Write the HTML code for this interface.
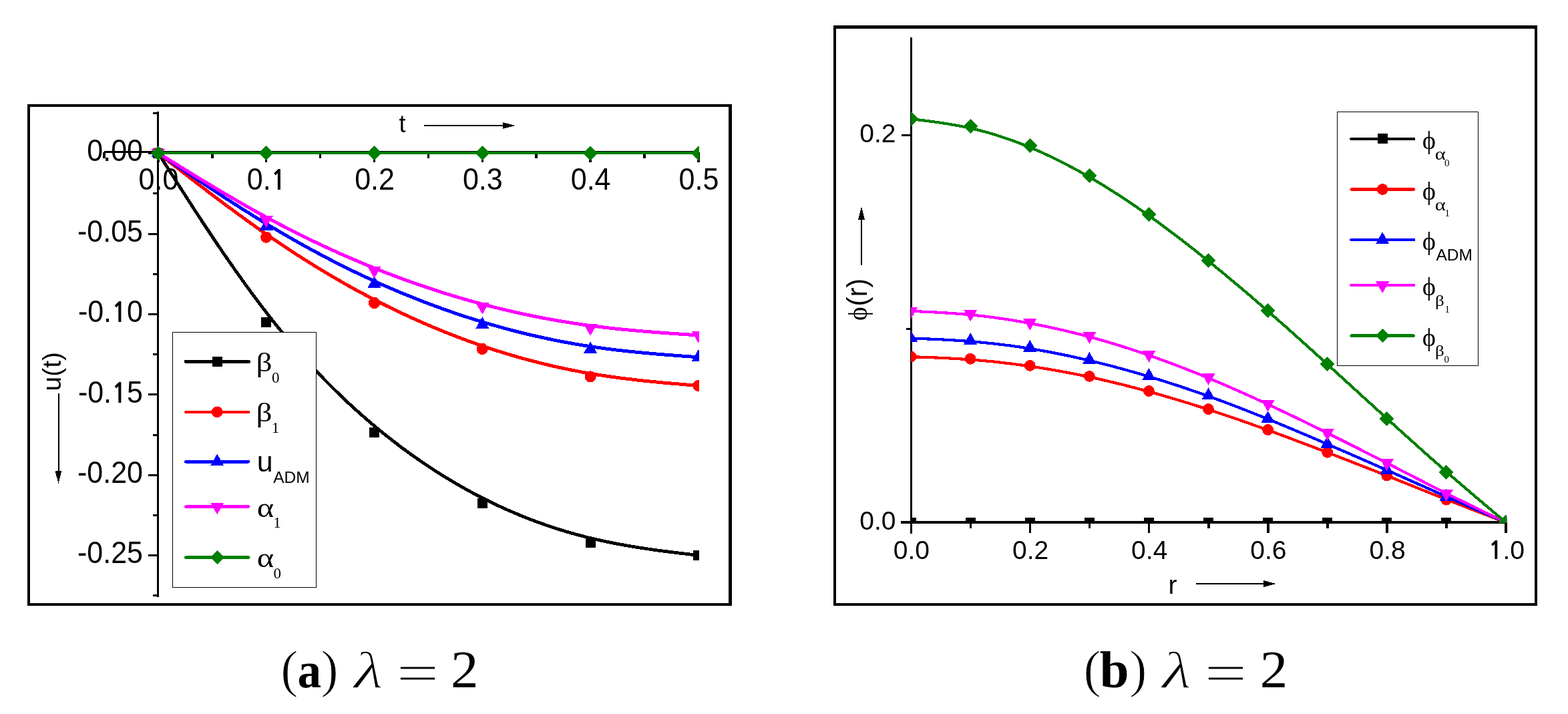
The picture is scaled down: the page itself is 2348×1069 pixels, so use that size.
<!DOCTYPE html>
<html><head><meta charset="utf-8"><title>Figure</title>
<style>html,body{margin:0;padding:0;background:#fff;overflow:hidden}svg{display:block}</style>
</head><body>
<svg shape-rendering="crispEdges" width="2348" height="1069" viewBox="0 0 2348 1069">
<rect width="2348" height="1069" fill="#fff"/>
<rect x="41" y="156" width="1055" height="4"/>
<rect x="41" y="903" width="1055" height="4"/>
<rect x="41" y="156" width="4" height="751"/>
<rect x="1091" y="156" width="5" height="751"/>
<g stroke="#000" stroke-width="3" fill="none">
<line x1="156" y1="227.5" x2="1047.4" y2="227.5"/>
<line x1="236.5" y1="167" x2="236.5" y2="893.5"/>
<line x1="156" y1="228" x2="156" y2="236.5" stroke-width="3.5"/>
<line x1="236.9" y1="228" x2="236.9" y2="242.5" stroke-width="3.5"/>
<line x1="317.8" y1="228" x2="317.8" y2="236.5" stroke-width="3.5"/>
<line x1="398.7" y1="228" x2="398.7" y2="242.5" stroke-width="3.5"/>
<line x1="479.6" y1="228" x2="479.6" y2="236.5" stroke-width="3.5"/>
<line x1="560.5" y1="228" x2="560.5" y2="242.5" stroke-width="3.5"/>
<line x1="641.4" y1="228" x2="641.4" y2="236.5" stroke-width="3.5"/>
<line x1="722.3" y1="228" x2="722.3" y2="242.5" stroke-width="3.5"/>
<line x1="803.2" y1="228" x2="803.2" y2="236.5" stroke-width="3.5"/>
<line x1="884.1" y1="228" x2="884.1" y2="242.5" stroke-width="3.5"/>
<line x1="965" y1="228" x2="965" y2="236.5" stroke-width="3.5"/>
<line x1="1045.9" y1="228" x2="1045.9" y2="242.5" stroke-width="3.5"/>
<line x1="228.5" y1="891.8" x2="236.5" y2="891.8"/>
<line x1="222" y1="831.6" x2="236.5" y2="831.6"/>
<line x1="228.5" y1="771.4" x2="236.5" y2="771.4"/>
<line x1="222" y1="711.2" x2="236.5" y2="711.2"/>
<line x1="228.5" y1="651" x2="236.5" y2="651"/>
<line x1="222" y1="590.8" x2="236.5" y2="590.8"/>
<line x1="228.5" y1="530.6" x2="236.5" y2="530.6"/>
<line x1="222" y1="470.4" x2="236.5" y2="470.4"/>
<line x1="228.5" y1="410.2" x2="236.5" y2="410.2"/>
<line x1="222" y1="350" x2="236.5" y2="350"/>
<line x1="228.5" y1="289.8" x2="236.5" y2="289.8"/>
<line x1="222" y1="229.6" x2="236.5" y2="229.6"/>
<line x1="228.5" y1="169.4" x2="236.5" y2="169.4"/>
</g>
<g font-family="Liberation Sans, Arial, sans-serif" font-size="43" fill="#000">
<text transform="translate(237.4,283.8) scale(1,1.065)" text-anchor="middle">0.0</text>
<text transform="translate(399.2,283.8) scale(1,1.065)" text-anchor="middle">0.<tspan font-family="NanumGothic, Liberation Sans, sans-serif" font-weight="bold" font-size="38">1</tspan></text>
<text transform="translate(561,283.8) scale(1,1.065)" text-anchor="middle">0.2</text>
<text transform="translate(722.8,283.8) scale(1,1.065)" text-anchor="middle">0.3</text>
<text transform="translate(884.6,283.8) scale(1,1.065)" text-anchor="middle">0.4</text>
<text transform="translate(1046.4,283.8) scale(1,1.065)" text-anchor="middle">0.5</text>
<text transform="translate(214,241.4) scale(1,1.065)" text-anchor="end">0.00</text>
<text transform="translate(214,361.8) scale(1,1.065)" text-anchor="end">-0.05</text>
<text transform="translate(214,482.2) scale(1,1.065)" text-anchor="end">-0.<tspan font-family="NanumGothic, Liberation Sans, sans-serif" font-weight="bold" font-size="38">1</tspan>0</text>
<text transform="translate(214,602.6) scale(1,1.065)" text-anchor="end">-0.<tspan font-family="NanumGothic, Liberation Sans, sans-serif" font-weight="bold" font-size="38">1</tspan>5</text>
<text transform="translate(214,723) scale(1,1.065)" text-anchor="end">-0.20</text>
<text transform="translate(214,843.4) scale(1,1.065)" text-anchor="end">-0.25</text>
</g>
<text x="597.5" y="197.9" font-family="Liberation Sans, Arial, sans-serif" font-size="36">t</text>
<line x1="635.3" y1="188" x2="756" y2="188" stroke="#000" stroke-width="2"/>
<polygon points="753,183.2 771.8,188 753,192.8" fill="#000"/>
<text transform="translate(90.9,556.3) rotate(-90)" text-anchor="middle" font-family="Liberation Sans, Arial, sans-serif" font-size="39">u(t)</text>
<line x1="87.5" y1="589" x2="87.5" y2="708" stroke="#000" stroke-width="2"/>
<polygon points="82.6,705 92.4,705 87.5,724.3" fill="#000"/>
<defs><clipPath id="cl"><rect x="150" y="160" width="897" height="740"/></clipPath>
<clipPath id="cr"><rect x="1364.1" y="45" width="892.1" height="738"/></clipPath></defs>
<g clip-path="url(#cl)">
<path d="M236.9 229.2 L237.0 229.3 L237.0 229.4 L237.1 229.6 L237.3 229.9 L237.6 230.2 L237.9 230.8 L238.3 231.4 L238.9 232.3 L239.5 233.3 L240.3 234.5 L241.2 235.9 L242.3 237.6 L243.5 239.5 L244.9 241.7 L246.5 244.2 L248.3 247.0 L250.3 250.1 L252.5 253.6 L255.0 257.5 L257.7 261.7 L260.6 266.3 L263.9 271.4 L267.4 276.9 L271.2 282.8 L275.2 289.1 L279.5 295.8 L284.0 302.8 L288.7 310.1 L293.7 317.7 L298.8 325.6 L304.2 333.7 L309.7 342.0 L315.3 350.5 L321.2 359.2 L327.1 368.1 L333.2 377.0 L339.4 386.1 L345.8 395.2 L352.2 404.4 L358.7 413.6 L365.2 422.7 L371.9 431.9 L378.5 441.0 L385.2 450.0 L392.0 458.9 L398.7 467.7 L405.4 476.3 L412.2 484.8 L418.9 493.2 L425.7 501.3 L432.4 509.4 L439.2 517.3 L445.9 525.1 L452.6 532.7 L459.4 540.2 L466.1 547.5 L472.9 554.7 L479.6 561.8 L486.3 568.8 L493.1 575.6 L499.8 582.3 L506.6 588.9 L513.3 595.4 L520.0 601.8 L526.8 608.0 L533.5 614.1 L540.3 620.2 L547.0 626.1 L553.8 631.9 L560.5 637.6 L567.2 643.2 L574.0 648.7 L580.7 654.0 L587.5 659.3 L594.2 664.5 L600.9 669.6 L607.7 674.6 L614.4 679.5 L621.2 684.3 L627.9 689.0 L634.7 693.7 L641.4 698.2 L648.1 702.6 L654.9 707.0 L661.6 711.2 L668.4 715.4 L675.1 719.4 L681.8 723.4 L688.6 727.3 L695.3 731.1 L702.1 734.9 L708.8 738.5 L715.6 742.1 L722.3 745.5 L729.0 748.9 L735.8 752.2 L742.5 755.5 L749.3 758.6 L756.0 761.7 L762.8 764.7 L769.5 767.6 L776.2 770.4 L783.0 773.2 L789.7 775.9 L796.5 778.5 L803.2 781.0 L809.9 783.4 L816.7 785.8 L823.4 788.1 L830.2 790.4 L836.9 792.5 L843.7 794.6 L850.4 796.6 L857.1 798.6 L863.9 800.4 L870.6 802.2 L877.4 804.0 L884.1 805.6 L890.8 807.2 L897.6 808.7 L904.3 810.2 L910.9 811.6 L917.6 812.9 L924.1 814.2 L930.6 815.4 L937.0 816.6 L943.4 817.7 L949.6 818.7 L955.7 819.7 L961.6 820.6 L967.5 821.5 L973.1 822.3 L978.6 823.1 L984.0 823.9 L989.1 824.6 L994.1 825.2 L998.8 825.8 L1003.3 826.4 L1007.6 826.9 L1011.6 827.4 L1015.4 827.9 L1018.9 828.3 L1022.2 828.7 L1025.1 829.0 L1027.8 829.3 L1030.3 829.6 L1032.5 829.9 L1034.5 830.1 L1036.3 830.4 L1037.9 830.5 L1039.3 830.7 L1040.5 830.9 L1041.6 831.0 L1042.5 831.1 L1043.3 831.2 L1043.9 831.3 L1044.5 831.3 L1044.9 831.4 L1045.2 831.4 L1045.5 831.4 L1045.7 831.5 L1045.8 831.5 L1045.8 831.5 L1045.9 831.5" fill="none" stroke="#000000" stroke-width="4.8" stroke-linejoin="round"/>
<rect x="229.4" y="221.7" width="15" height="15" fill="#000000"/>
<rect x="391.2" y="474.9" width="15" height="15" fill="#000000"/>
<rect x="553" y="639.9" width="15" height="15" fill="#000000"/>
<rect x="714.8" y="745.9" width="15" height="15" fill="#000000"/>
<rect x="876.6" y="804.7" width="15" height="15" fill="#000000"/>
<rect x="1038.4" y="824" width="15" height="15" fill="#000000"/>
<path d="M236.9 229.2 L237.0 229.2 L237.0 229.3 L237.1 229.4 L237.3 229.5 L237.6 229.7 L237.9 230.0 L238.3 230.3 L238.9 230.7 L239.5 231.2 L240.3 231.8 L241.2 232.5 L242.3 233.4 L243.5 234.3 L244.9 235.4 L246.5 236.7 L248.3 238.1 L250.3 239.6 L252.5 241.4 L255.0 243.3 L257.7 245.4 L260.6 247.7 L263.9 250.2 L267.4 252.9 L271.2 255.9 L275.2 259.0 L279.5 262.3 L284.0 265.8 L288.7 269.5 L293.7 273.3 L298.8 277.3 L304.2 281.3 L309.7 285.5 L315.3 289.8 L321.2 294.2 L327.1 298.7 L333.2 303.3 L339.4 307.9 L345.8 312.6 L352.2 317.3 L358.7 322.1 L365.2 326.8 L371.9 331.6 L378.5 336.4 L385.2 341.2 L392.0 345.9 L398.7 350.6 L405.4 355.2 L412.2 359.8 L418.9 364.4 L425.7 368.9 L432.4 373.3 L439.2 377.8 L445.9 382.1 L452.6 386.4 L459.4 390.7 L466.1 394.9 L472.9 399.1 L479.6 403.2 L486.3 407.2 L493.1 411.2 L499.8 415.2 L506.6 419.1 L513.3 423.0 L520.0 426.8 L526.8 430.6 L533.5 434.3 L540.3 437.9 L547.0 441.5 L553.8 445.1 L560.5 448.6 L567.2 452.1 L574.0 455.5 L580.7 458.8 L587.5 462.2 L594.2 465.4 L600.9 468.6 L607.7 471.8 L614.4 474.9 L621.2 477.9 L627.9 480.9 L634.7 483.9 L641.4 486.8 L648.1 489.7 L654.9 492.5 L661.6 495.2 L668.4 498.0 L675.1 500.6 L681.8 503.2 L688.6 505.8 L695.3 508.3 L702.1 510.8 L708.8 513.2 L715.6 515.6 L722.3 517.9 L729.0 520.2 L735.8 522.4 L742.5 524.6 L749.3 526.7 L756.0 528.8 L762.8 530.8 L769.5 532.8 L776.2 534.8 L783.0 536.7 L789.7 538.5 L796.5 540.3 L803.2 542.0 L809.9 543.7 L816.7 545.4 L823.4 547.0 L830.2 548.6 L836.9 550.1 L843.7 551.5 L850.4 552.9 L857.1 554.3 L863.9 555.6 L870.6 556.9 L877.4 558.1 L884.1 559.3 L890.8 560.4 L897.6 561.5 L904.3 562.5 L910.9 563.5 L917.6 564.4 L924.1 565.3 L930.6 566.2 L937.0 567.0 L943.4 567.7 L949.6 568.5 L955.7 569.2 L961.6 569.8 L967.5 570.5 L973.1 571.0 L978.6 571.6 L984.0 572.1 L989.1 572.6 L994.1 573.1 L998.8 573.5 L1003.3 573.9 L1007.6 574.3 L1011.6 574.6 L1015.4 574.9 L1018.9 575.2 L1022.2 575.5 L1025.1 575.8 L1027.8 576.0 L1030.3 576.2 L1032.5 576.4 L1034.5 576.5 L1036.3 576.7 L1037.9 576.8 L1039.3 576.9 L1040.5 577.1 L1041.6 577.1 L1042.5 577.2 L1043.3 577.3 L1043.9 577.3 L1044.5 577.4 L1044.9 577.4 L1045.2 577.4 L1045.5 577.5 L1045.7 577.5 L1045.8 577.5 L1045.8 577.5 L1045.9 577.5" fill="none" stroke="#ff0000" stroke-width="5.0" stroke-linejoin="round"/>
<circle cx="236.9" cy="229.2" r="8.6" fill="#ff0000"/>
<circle cx="398.7" cy="355.2" r="8.6" fill="#ff0000"/>
<circle cx="560.5" cy="453.5" r="8.6" fill="#ff0000"/>
<circle cx="722.3" cy="522.5" r="8.6" fill="#ff0000"/>
<circle cx="884.1" cy="563.9" r="8.6" fill="#ff0000"/>
<circle cx="1045.9" cy="577.5" r="8.6" fill="#ff0000"/>
<path d="M236.9 229.2 L237.0 229.2 L237.0 229.3 L237.1 229.4 L237.3 229.5 L237.6 229.7 L237.9 229.9 L238.3 230.2 L238.9 230.5 L239.5 231.0 L240.3 231.5 L241.2 232.1 L242.3 232.8 L243.5 233.7 L244.9 234.6 L246.5 235.7 L248.3 236.9 L250.3 238.3 L252.5 239.8 L255.0 241.4 L257.7 243.3 L260.6 245.3 L263.9 247.5 L267.4 249.9 L271.2 252.4 L275.2 255.2 L279.5 258.0 L284.0 261.1 L288.7 264.3 L293.7 267.6 L298.8 271.0 L304.2 274.6 L309.7 278.3 L315.3 282.0 L321.2 285.8 L327.1 289.8 L333.2 293.7 L339.4 297.8 L345.8 301.8 L352.2 306.0 L358.7 310.1 L365.2 314.3 L371.9 318.4 L378.5 322.6 L385.2 326.7 L392.0 330.9 L398.7 335.0 L405.4 339.0 L412.2 343.0 L418.9 347.0 L425.7 351.0 L432.4 354.8 L439.2 358.7 L445.9 362.5 L452.6 366.3 L459.4 370.0 L466.1 373.7 L472.9 377.3 L479.6 380.9 L486.3 384.5 L493.1 388.0 L499.8 391.5 L506.6 394.9 L513.3 398.3 L520.0 401.6 L526.8 405.0 L533.5 408.2 L540.3 411.4 L547.0 414.6 L553.8 417.7 L560.5 420.8 L567.2 423.9 L574.0 426.9 L580.7 429.8 L587.5 432.7 L594.2 435.6 L600.9 438.4 L607.7 441.2 L614.4 443.9 L621.2 446.6 L627.9 449.3 L634.7 451.9 L641.4 454.5 L648.1 457.0 L654.9 459.5 L661.6 461.9 L668.4 464.3 L675.1 466.7 L681.8 469.0 L688.6 471.3 L695.3 473.5 L702.1 475.7 L708.8 477.8 L715.6 479.9 L722.3 482.0 L729.0 484.0 L735.8 486.0 L742.5 487.9 L749.3 489.8 L756.0 491.7 L762.8 493.5 L769.5 495.2 L776.2 497.0 L783.0 498.6 L789.7 500.3 L796.5 501.9 L803.2 503.4 L809.9 504.9 L816.7 506.4 L823.4 507.8 L830.2 509.2 L836.9 510.6 L843.7 511.9 L850.4 513.1 L857.1 514.3 L863.9 515.5 L870.6 516.6 L877.4 517.7 L884.1 518.7 L890.8 519.7 L897.6 520.7 L904.3 521.6 L910.9 522.5 L917.6 523.3 L924.1 524.1 L930.6 524.8 L937.0 525.6 L943.4 526.2 L949.6 526.9 L955.7 527.5 L961.6 528.1 L967.5 528.6 L973.1 529.1 L978.6 529.6 L984.0 530.1 L989.1 530.5 L994.1 530.9 L998.8 531.3 L1003.3 531.6 L1007.6 532.0 L1011.6 532.3 L1015.4 532.6 L1018.9 532.8 L1022.2 533.1 L1025.1 533.3 L1027.8 533.5 L1030.3 533.7 L1032.5 533.8 L1034.5 534.0 L1036.3 534.1 L1037.9 534.2 L1039.3 534.3 L1040.5 534.4 L1041.6 534.5 L1042.5 534.6 L1043.3 534.6 L1043.9 534.7 L1044.5 534.7 L1044.9 534.7 L1045.2 534.8 L1045.5 534.8 L1045.7 534.8 L1045.8 534.8 L1045.8 534.8 L1045.9 534.8" fill="none" stroke="#0000ff" stroke-width="5.0" stroke-linejoin="round"/>
<polygon points="236.9,217.33 247,235.13 226.8,235.13" fill="#0000ff"/>
<polygon points="398.7,327.03 408.8,344.83 388.6,344.83" fill="#0000ff"/>
<polygon points="560.5,413.13 570.6,430.93 550.4,430.93" fill="#0000ff"/>
<polygon points="722.3,474.13 732.4,491.93 712.2,491.93" fill="#0000ff"/>
<polygon points="884.1,511.03 894.2,528.83 874,528.83" fill="#0000ff"/>
<polygon points="1045.9,522.93 1056,540.73 1035.8,540.73" fill="#0000ff"/>
<path d="M236.9 229.2 L237.0 229.2 L237.0 229.3 L237.1 229.4 L237.3 229.5 L237.6 229.6 L237.9 229.8 L238.3 230.1 L238.9 230.4 L239.5 230.8 L240.3 231.3 L241.2 231.8 L242.3 232.5 L243.5 233.3 L244.9 234.1 L246.5 235.1 L248.3 236.2 L250.3 237.5 L252.5 238.8 L255.0 240.4 L257.7 242.0 L260.6 243.9 L263.9 245.8 L267.4 248.0 L271.2 250.3 L275.2 252.8 L279.5 255.5 L284.0 258.2 L288.7 261.1 L293.7 264.2 L298.8 267.3 L304.2 270.5 L309.7 273.8 L315.3 277.2 L321.2 280.7 L327.1 284.3 L333.2 287.9 L339.4 291.5 L345.8 295.2 L352.2 299.0 L358.7 302.7 L365.2 306.5 L371.9 310.2 L378.5 314.0 L385.2 317.7 L392.0 321.4 L398.7 325.1 L405.4 328.7 L412.2 332.3 L418.9 335.9 L425.7 339.4 L432.4 342.9 L439.2 346.3 L445.9 349.7 L452.6 353.1 L459.4 356.4 L466.1 359.7 L472.9 362.9 L479.6 366.1 L486.3 369.2 L493.1 372.4 L499.8 375.4 L506.6 378.5 L513.3 381.5 L520.0 384.4 L526.8 387.3 L533.5 390.2 L540.3 393.1 L547.0 395.9 L553.8 398.6 L560.5 401.4 L567.2 404.0 L574.0 406.7 L580.7 409.3 L587.5 411.9 L594.2 414.4 L600.9 416.9 L607.7 419.4 L614.4 421.8 L621.2 424.2 L627.9 426.5 L634.7 428.8 L641.4 431.1 L648.1 433.3 L654.9 435.5 L661.6 437.7 L668.4 439.8 L675.1 441.9 L681.8 443.9 L688.6 445.9 L695.3 447.9 L702.1 449.8 L708.8 451.7 L715.6 453.5 L722.3 455.4 L729.0 457.1 L735.8 458.9 L742.5 460.6 L749.3 462.2 L756.0 463.8 L762.8 465.4 L769.5 467.0 L776.2 468.5 L783.0 470.0 L789.7 471.4 L796.5 472.8 L803.2 474.2 L809.9 475.5 L816.7 476.8 L823.4 478.0 L830.2 479.2 L836.9 480.4 L843.7 481.5 L850.4 482.6 L857.1 483.7 L863.9 484.7 L870.6 485.7 L877.4 486.7 L884.1 487.6 L890.8 488.4 L897.6 489.3 L904.3 490.1 L910.9 490.9 L917.6 491.6 L924.1 492.3 L930.6 493.0 L937.0 493.6 L943.4 494.2 L949.6 494.8 L955.7 495.4 L961.6 495.9 L967.5 496.4 L973.1 496.8 L978.6 497.3 L984.0 497.7 L989.1 498.1 L994.1 498.5 L998.8 498.8 L1003.3 499.1 L1007.6 499.4 L1011.6 499.7 L1015.4 499.9 L1018.9 500.2 L1022.2 500.4 L1025.1 500.6 L1027.8 500.8 L1030.3 500.9 L1032.5 501.1 L1034.5 501.2 L1036.3 501.4 L1037.9 501.5 L1039.3 501.6 L1040.5 501.6 L1041.6 501.7 L1042.5 501.8 L1043.3 501.8 L1043.9 501.9 L1044.5 501.9 L1044.9 501.9 L1045.2 502.0 L1045.5 502.0 L1045.7 502.0 L1045.8 502.0 L1045.8 502.0 L1045.9 502.0" fill="none" stroke="#ff00ff" stroke-width="5.0" stroke-linejoin="round"/>
<polygon points="226.8,223.27 247,223.27 236.9,241.07" fill="#ff00ff"/>
<polygon points="388.6,323.17 408.8,323.17 398.7,340.97" fill="#ff00ff"/>
<polygon points="550.4,399.07 570.6,399.07 560.5,416.87" fill="#ff00ff"/>
<polygon points="712.2,453.07 732.4,453.07 722.3,470.87" fill="#ff00ff"/>
<polygon points="874,485.17 894.2,485.17 884.1,502.97" fill="#ff00ff"/>
<polygon points="1035.8,496.07 1056,496.07 1045.9,513.87" fill="#ff00ff"/>
<path d="M236.9 229.2 L237.0 229.2 L237.0 229.2 L237.1 229.2 L237.3 229.2 L237.6 229.2 L237.9 229.2 L238.3 229.2 L238.9 229.2 L239.5 229.2 L240.3 229.2 L241.2 229.2 L242.3 229.2 L243.5 229.2 L244.9 229.2 L246.5 229.2 L248.3 229.2 L250.3 229.2 L252.5 229.2 L255.0 229.2 L257.7 229.2 L260.6 229.2 L263.9 229.2 L267.4 229.2 L271.2 229.2 L275.2 229.2 L279.5 229.2 L284.0 229.2 L288.7 229.2 L293.7 229.2 L298.8 229.2 L304.2 229.2 L309.7 229.2 L315.3 229.2 L321.2 229.2 L327.1 229.2 L333.2 229.2 L339.4 229.2 L345.8 229.2 L352.2 229.2 L358.7 229.2 L365.2 229.2 L371.9 229.2 L378.5 229.2 L385.2 229.2 L392.0 229.2 L398.7 229.2 L405.4 229.2 L412.2 229.2 L418.9 229.2 L425.7 229.2 L432.4 229.2 L439.2 229.2 L445.9 229.2 L452.6 229.2 L459.4 229.2 L466.1 229.2 L472.9 229.2 L479.6 229.2 L486.3 229.2 L493.1 229.2 L499.8 229.2 L506.6 229.2 L513.3 229.2 L520.0 229.2 L526.8 229.2 L533.5 229.2 L540.3 229.2 L547.0 229.2 L553.8 229.2 L560.5 229.2 L567.2 229.2 L574.0 229.2 L580.7 229.2 L587.5 229.2 L594.2 229.2 L600.9 229.2 L607.7 229.2 L614.4 229.2 L621.2 229.2 L627.9 229.2 L634.7 229.2 L641.4 229.2 L648.1 229.2 L654.9 229.2 L661.6 229.2 L668.4 229.2 L675.1 229.2 L681.8 229.2 L688.6 229.2 L695.3 229.2 L702.1 229.2 L708.8 229.2 L715.6 229.2 L722.3 229.2 L729.0 229.2 L735.8 229.2 L742.5 229.2 L749.3 229.2 L756.0 229.2 L762.8 229.2 L769.5 229.2 L776.2 229.2 L783.0 229.2 L789.7 229.2 L796.5 229.2 L803.2 229.2 L809.9 229.2 L816.7 229.2 L823.4 229.2 L830.2 229.2 L836.9 229.2 L843.7 229.2 L850.4 229.2 L857.1 229.2 L863.9 229.2 L870.6 229.2 L877.4 229.2 L884.1 229.2 L890.8 229.2 L897.6 229.2 L904.3 229.2 L910.9 229.2 L917.6 229.2 L924.1 229.2 L930.6 229.2 L937.0 229.2 L943.4 229.2 L949.6 229.2 L955.7 229.2 L961.6 229.2 L967.5 229.2 L973.1 229.2 L978.6 229.2 L984.0 229.2 L989.1 229.2 L994.1 229.2 L998.8 229.2 L1003.3 229.2 L1007.6 229.2 L1011.6 229.2 L1015.4 229.2 L1018.9 229.2 L1022.2 229.2 L1025.1 229.2 L1027.8 229.2 L1030.3 229.2 L1032.5 229.2 L1034.5 229.2 L1036.3 229.2 L1037.9 229.2 L1039.3 229.2 L1040.5 229.2 L1041.6 229.2 L1042.5 229.2 L1043.3 229.2 L1043.9 229.2 L1044.5 229.2 L1044.9 229.2 L1045.2 229.2 L1045.5 229.2 L1045.7 229.2 L1045.8 229.2 L1045.8 229.2 L1045.9 229.2" fill="none" stroke="#008000" stroke-width="4.2" stroke-linejoin="round"/>
<polygon points="236.9,218.2 247.9,229.2 236.9,240.2 225.9,229.2" fill="#008000"/>
<polygon points="398.7,218.2 409.7,229.2 398.7,240.2 387.7,229.2" fill="#008000"/>
<polygon points="560.5,218.2 571.5,229.2 560.5,240.2 549.5,229.2" fill="#008000"/>
<polygon points="722.3,218.2 733.3,229.2 722.3,240.2 711.3,229.2" fill="#008000"/>
<polygon points="884.1,218.2 895.1,229.2 884.1,240.2 873.1,229.2" fill="#008000"/>
<polygon points="1045.9,218.2 1056.9,229.2 1045.9,240.2 1034.9,229.2" fill="#008000"/>
</g>
<rect x="258.5" y="497.5" width="215" height="382" fill="#fff" stroke="#000" stroke-width="1.2"/>
<line x1="278.3" y1="541.4" x2="372.3" y2="541.4" stroke="#000000" stroke-width="5.0" stroke-linecap="round"/>
<rect x="317.7" y="533.9" width="15" height="15" fill="#000000"/>
<line x1="278.3" y1="616.8" x2="372.3" y2="616.8" stroke="#ff0000" stroke-width="4.4" stroke-linecap="round"/>
<circle cx="325.2" cy="616.8" r="8.4" fill="#ff0000"/>
<line x1="278.3" y1="691.3" x2="372.3" y2="691.3" stroke="#0000ff" stroke-width="4.4" stroke-linecap="round"/>
<polygon points="325.2,679.43 335.3,697.23 315.1,697.23" fill="#0000ff"/>
<line x1="278.3" y1="758.6" x2="372.3" y2="758.6" stroke="#ff00ff" stroke-width="4.4" stroke-linecap="round"/>
<polygon points="315.1,752.67 335.3,752.67 325.2,770.47" fill="#ff00ff"/>
<line x1="278.3" y1="834.6" x2="372.3" y2="834.6" stroke="#008000" stroke-width="4.6" stroke-linecap="round"/>
<polygon points="325.2,824.1 335.7,834.6 325.2,845.1 314.7,834.6" fill="#008000"/>
<text transform="translate(383.57,555.5) scale(1.17,1)" font-family="Liberation Serif, Times New Roman, serif" font-size="40.5">β</text>
<text x="406.93" y="573" font-family="Liberation Serif, Times New Roman, serif" font-size="23">0</text>
<text transform="translate(383.57,631) scale(1.17,1)" font-family="Liberation Serif, Times New Roman, serif" font-size="40.5">β</text>
<text x="406.78" y="648.3" font-family="Liberation Serif, Times New Roman, serif" font-size="23">1</text>
<text x="384.81" y="705.6" font-family="Liberation Sans, Arial, sans-serif" font-size="43">u</text>
<text x="409.25" y="723.1" font-family="Liberation Sans, Arial, sans-serif" font-size="24.5">ADM</text>
<text transform="translate(384.75,773.8) scale(1.17,1)" font-family="Liberation Serif, Times New Roman, serif" font-size="41.5">α</text>
<text x="409.28" y="789.9" font-family="Liberation Serif, Times New Roman, serif" font-size="23">1</text>
<text transform="translate(384.75,848.6) scale(1.17,1)" font-family="Liberation Serif, Times New Roman, serif" font-size="41.5">α</text>
<text x="409.43" y="865.8" font-family="Liberation Serif, Times New Roman, serif" font-size="23">0</text>
<rect x="1248" y="38" width="1054" height="5"/>
<rect x="1248" y="903" width="1054" height="4"/>
<rect x="1248" y="38" width="4" height="869"/>
<rect x="2298" y="38" width="4" height="869"/>
<g stroke="#000" stroke-width="3" fill="none">
<line x1="1364.5" y1="55.7" x2="1364.5" y2="798.5"/>
<line x1="1349" y1="782.3" x2="2256.4" y2="782.3" stroke-width="4"/>
<line x1="1364.4" y1="782" x2="1364.4" y2="798" stroke-width="3.5"/>
<line x1="1453.48" y1="782" x2="1453.48" y2="791" stroke-width="3.5"/>
<line x1="1542.56" y1="782" x2="1542.56" y2="798" stroke-width="3.5"/>
<line x1="1631.64" y1="782" x2="1631.64" y2="791" stroke-width="3.5"/>
<line x1="1720.72" y1="782" x2="1720.72" y2="798" stroke-width="3.5"/>
<line x1="1809.8" y1="782" x2="1809.8" y2="791" stroke-width="3.5"/>
<line x1="1898.88" y1="782" x2="1898.88" y2="798" stroke-width="3.5"/>
<line x1="1987.96" y1="782" x2="1987.96" y2="791" stroke-width="3.5"/>
<line x1="2077.04" y1="782" x2="2077.04" y2="798" stroke-width="3.5"/>
<line x1="2166.12" y1="782" x2="2166.12" y2="791" stroke-width="3.5"/>
<line x1="2255.2" y1="782" x2="2255.2" y2="798" stroke-width="3.5"/>
<line x1="1356.5" y1="492.15" x2="1364.5" y2="492.15"/>
<line x1="1349.5" y1="202.2" x2="1364.5" y2="202.2"/>
</g>
<g font-family="Liberation Sans, Arial, sans-serif" font-size="39" fill="#000">
<text x="1364.9" y="836.8" text-anchor="middle">0.0</text>
<text x="1543.06" y="836.8" text-anchor="middle">0.2</text>
<text x="1721.22" y="836.8" text-anchor="middle">0.4</text>
<text x="1899.38" y="836.8" text-anchor="middle">0.6</text>
<text x="2077.54" y="836.8" text-anchor="middle">0.8</text>
<text x="2255.7" y="836.8" text-anchor="middle"><tspan font-family="NanumGothic, Liberation Sans, sans-serif" font-weight="bold" font-size="36.2">1</tspan>.0</text>
<text x="1341.5" y="793" text-anchor="end">0.0</text>
<text x="1341.5" y="212.8" text-anchor="end">0.2</text>
</g>
<text x="1749.4" y="888.7" font-family="Liberation Sans, Arial, sans-serif" font-size="39">r</text>
<line x1="1790.9" y1="874" x2="1895" y2="874" stroke="#000" stroke-width="2"/>
<polygon points="1892.3,869.1 1910.8,874 1892.3,878.9" fill="#000"/>
<text transform="translate(1297.6,480) rotate(-90)" font-family="Liberation Serif, Times New Roman, serif" font-size="39">ϕ</text>
<text transform="translate(1297.6,458.6) rotate(-90)" font-family="Liberation Sans, Arial, sans-serif" font-size="42">(r)</text>
<line x1="1290" y1="396.5" x2="1290" y2="325" stroke="#000" stroke-width="2"/>
<polygon points="1285,328.5 1295,328.5 1290,309.5" fill="#000"/>
<g clip-path="url(#cr)">
<path d="M1364.1 782.1 L1364.2 782.1 L1364.2 782.1 L1364.3 782.1 L1364.5 782.1 L1364.6 782.1 L1364.9 782.1 L1365.2 782.1 L1365.5 782.1 L1366.0 782.1 L1366.5 782.1 L1367.0 782.1 L1367.7 782.1 L1368.5 782.1 L1369.4 782.1 L1370.4 782.1 L1371.5 782.1 L1372.7 782.1 L1374.0 782.1 L1375.5 782.1 L1377.2 782.1 L1378.9 782.1 L1380.9 782.1 L1383.0 782.1 L1385.2 782.1 L1387.5 782.1 L1390.0 782.1 L1392.6 782.1 L1395.4 782.1 L1398.2 782.1 L1401.1 782.1 L1404.2 782.1 L1407.3 782.1 L1410.5 782.1 L1413.8 782.1 L1417.1 782.1 L1420.6 782.1 L1424.0 782.1 L1427.6 782.1 L1431.1 782.1 L1434.8 782.1 L1438.4 782.1 L1442.1 782.1 L1445.8 782.1 L1449.5 782.1 L1453.2 782.1 L1456.9 782.1 L1460.6 782.1 L1464.3 782.1 L1468.0 782.1 L1471.7 782.1 L1475.4 782.1 L1479.2 782.1 L1482.9 782.1 L1486.6 782.1 L1490.3 782.1 L1494.0 782.1 L1497.7 782.1 L1501.4 782.1 L1505.1 782.1 L1508.9 782.1 L1512.6 782.1 L1516.3 782.1 L1520.0 782.1 L1523.7 782.1 L1527.4 782.1 L1531.1 782.1 L1534.8 782.1 L1538.5 782.1 L1542.3 782.1 L1546.0 782.1 L1549.7 782.1 L1553.4 782.1 L1557.1 782.1 L1560.8 782.1 L1564.5 782.1 L1568.2 782.1 L1572.0 782.1 L1575.7 782.1 L1579.4 782.1 L1583.1 782.1 L1586.8 782.1 L1590.5 782.1 L1594.2 782.1 L1597.9 782.1 L1601.6 782.1 L1605.4 782.1 L1609.1 782.1 L1612.8 782.1 L1616.5 782.1 L1620.2 782.1 L1623.9 782.1 L1627.6 782.1 L1631.3 782.1 L1635.1 782.1 L1638.8 782.1 L1642.5 782.1 L1646.2 782.1 L1649.9 782.1 L1653.6 782.1 L1657.3 782.1 L1661.0 782.1 L1664.7 782.1 L1668.5 782.1 L1672.2 782.1 L1675.9 782.1 L1679.6 782.1 L1683.3 782.1 L1687.0 782.1 L1690.7 782.1 L1694.4 782.1 L1698.1 782.1 L1701.9 782.1 L1705.6 782.1 L1709.3 782.1 L1713.0 782.1 L1716.7 782.1 L1720.4 782.1 L1724.1 782.1 L1727.8 782.1 L1731.6 782.1 L1735.3 782.1 L1739.0 782.1 L1742.7 782.1 L1746.4 782.1 L1750.1 782.1 L1753.8 782.1 L1757.5 782.1 L1761.2 782.1 L1765.0 782.1 L1768.7 782.1 L1772.4 782.1 L1776.1 782.1 L1779.8 782.1 L1783.5 782.1 L1787.2 782.1 L1790.9 782.1 L1794.7 782.1 L1798.4 782.1 L1802.1 782.1 L1805.8 782.1 L1809.5 782.1 L1813.2 782.1 L1816.9 782.1 L1820.6 782.1 L1824.3 782.1 L1828.1 782.1 L1831.8 782.1 L1835.5 782.1 L1839.2 782.1 L1842.9 782.1 L1846.6 782.1 L1850.3 782.1 L1854.0 782.1 L1857.8 782.1 L1861.5 782.1 L1865.2 782.1 L1868.9 782.1 L1872.6 782.1 L1876.3 782.1 L1880.0 782.1 L1883.7 782.1 L1887.4 782.1 L1891.2 782.1 L1894.9 782.1 L1898.6 782.1 L1902.3 782.1 L1906.0 782.1 L1909.7 782.1 L1913.4 782.1 L1917.1 782.1 L1920.8 782.1 L1924.6 782.1 L1928.3 782.1 L1932.0 782.1 L1935.7 782.1 L1939.4 782.1 L1943.1 782.1 L1946.8 782.1 L1950.5 782.1 L1954.3 782.1 L1958.0 782.1 L1961.7 782.1 L1965.4 782.1 L1969.1 782.1 L1972.8 782.1 L1976.5 782.1 L1980.2 782.1 L1983.9 782.1 L1987.7 782.1 L1991.4 782.1 L1995.1 782.1 L1998.8 782.1 L2002.5 782.1 L2006.2 782.1 L2009.9 782.1 L2013.6 782.1 L2017.4 782.1 L2021.1 782.1 L2024.8 782.1 L2028.5 782.1 L2032.2 782.1 L2035.9 782.1 L2039.6 782.1 L2043.3 782.1 L2047.0 782.1 L2050.8 782.1 L2054.5 782.1 L2058.2 782.1 L2061.9 782.1 L2065.6 782.1 L2069.3 782.1 L2073.0 782.1 L2076.7 782.1 L2080.5 782.1 L2084.2 782.1 L2087.9 782.1 L2091.6 782.1 L2095.3 782.1 L2099.0 782.1 L2102.7 782.1 L2106.4 782.1 L2110.1 782.1 L2113.9 782.1 L2117.6 782.1 L2121.3 782.1 L2125.0 782.1 L2128.7 782.1 L2132.4 782.1 L2136.1 782.1 L2139.8 782.1 L2143.5 782.1 L2147.3 782.1 L2151.0 782.1 L2154.7 782.1 L2158.4 782.1 L2162.1 782.1 L2165.8 782.1 L2169.5 782.1 L2173.2 782.1 L2176.9 782.1 L2180.6 782.1 L2184.2 782.1 L2187.9 782.1 L2191.4 782.1 L2195.0 782.1 L2198.4 782.1 L2201.9 782.1 L2205.2 782.1 L2208.5 782.1 L2211.7 782.1 L2214.8 782.1 L2217.9 782.1 L2220.8 782.1 L2223.6 782.1 L2226.4 782.1 L2229.0 782.1 L2231.5 782.1 L2233.8 782.1 L2236.0 782.1 L2238.1 782.1 L2240.1 782.1 L2241.8 782.1 L2243.5 782.1 L2245.0 782.1 L2246.3 782.1 L2247.5 782.1 L2248.6 782.1 L2249.6 782.1 L2250.5 782.1 L2251.3 782.1 L2252.0 782.1 L2252.5 782.1 L2253.0 782.1 L2253.5 782.1 L2253.8 782.1 L2254.1 782.1 L2254.4 782.1 L2254.5 782.1 L2254.7 782.1 L2254.8 782.1 L2254.8 782.1 L2254.9 782.1" fill="none" stroke="#000000" stroke-width="4.2" stroke-linejoin="round"/>
<rect x="1356.6" y="774.6" width="15" height="15" fill="#000000"/>
<rect x="1445.68" y="774.6" width="15" height="15" fill="#000000"/>
<rect x="1534.76" y="774.6" width="15" height="15" fill="#000000"/>
<rect x="1623.84" y="774.6" width="15" height="15" fill="#000000"/>
<rect x="1712.92" y="774.6" width="15" height="15" fill="#000000"/>
<rect x="1802" y="774.6" width="15" height="15" fill="#000000"/>
<rect x="1891.08" y="774.6" width="15" height="15" fill="#000000"/>
<rect x="1980.16" y="774.6" width="15" height="15" fill="#000000"/>
<rect x="2069.24" y="774.6" width="15" height="15" fill="#000000"/>
<rect x="2158.32" y="774.6" width="15" height="15" fill="#000000"/>
<rect x="2247.4" y="774.6" width="15" height="15" fill="#000000"/>
<path d="M1364.1 534.1 L1364.2 534.1 L1364.2 534.1 L1364.3 534.1 L1364.5 534.1 L1364.6 534.1 L1364.9 534.1 L1365.2 534.1 L1365.5 534.2 L1366.0 534.2 L1366.5 534.2 L1367.0 534.2 L1367.7 534.2 L1368.5 534.3 L1369.4 534.3 L1370.4 534.3 L1371.5 534.4 L1372.7 534.4 L1374.0 534.5 L1375.5 534.5 L1377.2 534.6 L1378.9 534.6 L1380.9 534.7 L1383.0 534.8 L1385.2 534.9 L1387.5 534.9 L1390.0 535.0 L1392.6 535.1 L1395.4 535.3 L1398.2 535.4 L1401.1 535.5 L1404.2 535.6 L1407.3 535.8 L1410.5 535.9 L1413.8 536.1 L1417.1 536.2 L1420.6 536.4 L1424.0 536.6 L1427.6 536.8 L1431.1 537.0 L1434.8 537.2 L1438.4 537.4 L1442.1 537.7 L1445.8 537.9 L1449.5 538.2 L1453.2 538.4 L1456.9 538.7 L1460.6 539.0 L1464.3 539.3 L1468.0 539.7 L1471.7 540.0 L1475.4 540.3 L1479.2 540.7 L1482.9 541.0 L1486.6 541.4 L1490.3 541.8 L1494.0 542.2 L1497.7 542.6 L1501.4 543.0 L1505.1 543.5 L1508.9 543.9 L1512.6 544.4 L1516.3 544.8 L1520.0 545.3 L1523.7 545.8 L1527.4 546.3 L1531.1 546.8 L1534.8 547.3 L1538.5 547.8 L1542.3 548.4 L1546.0 548.9 L1549.7 549.5 L1553.4 550.1 L1557.1 550.6 L1560.8 551.2 L1564.5 551.8 L1568.2 552.4 L1572.0 553.1 L1575.7 553.7 L1579.4 554.3 L1583.1 555.0 L1586.8 555.6 L1590.5 556.3 L1594.2 557.0 L1597.9 557.7 L1601.6 558.4 L1605.4 559.1 L1609.1 559.8 L1612.8 560.6 L1616.5 561.3 L1620.2 562.1 L1623.9 562.9 L1627.6 563.6 L1631.3 564.4 L1635.1 565.2 L1638.8 566.0 L1642.5 566.8 L1646.2 567.7 L1649.9 568.5 L1653.6 569.4 L1657.3 570.2 L1661.0 571.1 L1664.7 572.0 L1668.5 572.9 L1672.2 573.8 L1675.9 574.7 L1679.6 575.6 L1683.3 576.5 L1687.0 577.5 L1690.7 578.4 L1694.4 579.4 L1698.1 580.3 L1701.9 581.3 L1705.6 582.3 L1709.3 583.3 L1713.0 584.3 L1716.7 585.3 L1720.4 586.3 L1724.1 587.3 L1727.8 588.4 L1731.6 589.4 L1735.3 590.5 L1739.0 591.5 L1742.7 592.6 L1746.4 593.7 L1750.1 594.8 L1753.8 595.9 L1757.5 597.0 L1761.2 598.1 L1765.0 599.2 L1768.7 600.3 L1772.4 601.4 L1776.1 602.6 L1779.8 603.7 L1783.5 604.9 L1787.2 606.0 L1790.9 607.2 L1794.7 608.4 L1798.4 609.6 L1802.1 610.8 L1805.8 612.0 L1809.5 613.2 L1813.2 614.4 L1816.9 615.6 L1820.6 616.8 L1824.3 618.1 L1828.1 619.3 L1831.8 620.5 L1835.5 621.8 L1839.2 623.0 L1842.9 624.3 L1846.6 625.6 L1850.3 626.9 L1854.0 628.1 L1857.8 629.4 L1861.5 630.7 L1865.2 632.0 L1868.9 633.3 L1872.6 634.6 L1876.3 636.0 L1880.0 637.3 L1883.7 638.6 L1887.4 639.9 L1891.2 641.3 L1894.9 642.6 L1898.6 644.0 L1902.3 645.3 L1906.0 646.7 L1909.7 648.0 L1913.4 649.4 L1917.1 650.8 L1920.8 652.1 L1924.6 653.5 L1928.3 654.9 L1932.0 656.3 L1935.7 657.7 L1939.4 659.1 L1943.1 660.5 L1946.8 661.9 L1950.5 663.3 L1954.3 664.7 L1958.0 666.1 L1961.7 667.5 L1965.4 668.9 L1969.1 670.3 L1972.8 671.8 L1976.5 673.2 L1980.2 674.6 L1983.9 676.0 L1987.7 677.4 L1991.4 678.9 L1995.1 680.3 L1998.8 681.7 L2002.5 683.2 L2006.2 684.6 L2009.9 686.0 L2013.6 687.5 L2017.4 688.9 L2021.1 690.4 L2024.8 691.8 L2028.5 693.3 L2032.2 694.7 L2035.9 696.2 L2039.6 697.6 L2043.3 699.1 L2047.0 700.5 L2050.8 702.0 L2054.5 703.4 L2058.2 704.9 L2061.9 706.4 L2065.6 707.8 L2069.3 709.3 L2073.0 710.8 L2076.7 712.2 L2080.5 713.7 L2084.2 715.2 L2087.9 716.7 L2091.6 718.2 L2095.3 719.7 L2099.0 721.1 L2102.7 722.6 L2106.4 724.1 L2110.1 725.6 L2113.9 727.1 L2117.6 728.6 L2121.3 730.1 L2125.0 731.6 L2128.7 733.1 L2132.4 734.5 L2136.1 736.0 L2139.8 737.5 L2143.5 739.0 L2147.3 740.5 L2151.0 741.9 L2154.7 743.4 L2158.4 744.9 L2162.1 746.4 L2165.8 747.8 L2169.5 749.3 L2173.2 750.7 L2176.9 752.2 L2180.6 753.6 L2184.2 755.0 L2187.9 756.4 L2191.4 757.8 L2195.0 759.2 L2198.4 760.5 L2201.9 761.8 L2205.2 763.1 L2208.5 764.4 L2211.7 765.6 L2214.8 766.8 L2217.9 768.0 L2220.8 769.1 L2223.6 770.2 L2226.4 771.2 L2229.0 772.2 L2231.5 773.2 L2233.8 774.1 L2236.0 774.9 L2238.1 775.7 L2240.1 776.5 L2241.8 777.1 L2243.5 777.7 L2245.0 778.3 L2246.3 778.8 L2247.5 779.3 L2248.6 779.7 L2249.6 780.1 L2250.5 780.4 L2251.3 780.7 L2252.0 781.0 L2252.5 781.2 L2253.0 781.4 L2253.5 781.6 L2253.8 781.7 L2254.1 781.8 L2254.4 781.9 L2254.5 782.0 L2254.7 782.0 L2254.8 782.0 L2254.8 782.1 L2254.9 782.1" fill="none" stroke="#ff0000" stroke-width="4.2" stroke-linejoin="round"/>
<circle cx="1364.1" cy="534.1" r="8.4" fill="#ff0000"/>
<circle cx="1453.18" cy="537.3" r="8.4" fill="#ff0000"/>
<circle cx="1542.26" cy="547.4" r="8.4" fill="#ff0000"/>
<circle cx="1631.34" cy="563.4" r="8.4" fill="#ff0000"/>
<circle cx="1720.42" cy="585.5" r="8.4" fill="#ff0000"/>
<circle cx="1809.5" cy="612.5" r="8.4" fill="#ff0000"/>
<circle cx="1898.58" cy="643.5" r="8.4" fill="#ff0000"/>
<circle cx="1987.66" cy="677.3" r="8.4" fill="#ff0000"/>
<circle cx="2076.74" cy="712" r="8.4" fill="#ff0000"/>
<circle cx="2165.82" cy="748.2" r="8.4" fill="#ff0000"/>
<circle cx="2254.9" cy="782.1" r="8.4" fill="#ff0000"/>
<path d="M1364.1 506.4 L1364.2 506.4 L1364.2 506.4 L1364.3 506.4 L1364.5 506.4 L1364.6 506.4 L1364.9 506.4 L1365.2 506.4 L1365.5 506.5 L1366.0 506.5 L1366.5 506.5 L1367.0 506.5 L1367.7 506.5 L1368.5 506.6 L1369.4 506.6 L1370.4 506.7 L1371.5 506.7 L1372.7 506.7 L1374.0 506.8 L1375.5 506.9 L1377.2 506.9 L1378.9 507.0 L1380.9 507.1 L1383.0 507.2 L1385.2 507.3 L1387.5 507.4 L1390.0 507.5 L1392.6 507.6 L1395.4 507.7 L1398.2 507.8 L1401.1 508.0 L1404.2 508.1 L1407.3 508.3 L1410.5 508.4 L1413.8 508.6 L1417.1 508.8 L1420.6 509.0 L1424.0 509.2 L1427.6 509.4 L1431.1 509.6 L1434.8 509.8 L1438.4 510.1 L1442.1 510.3 L1445.8 510.6 L1449.5 510.9 L1453.2 511.2 L1456.9 511.5 L1460.6 511.8 L1464.3 512.1 L1468.0 512.5 L1471.7 512.8 L1475.4 513.2 L1479.2 513.6 L1482.9 514.0 L1486.6 514.4 L1490.3 514.8 L1494.0 515.2 L1497.7 515.7 L1501.4 516.1 L1505.1 516.6 L1508.9 517.1 L1512.6 517.5 L1516.3 518.0 L1520.0 518.6 L1523.7 519.1 L1527.4 519.6 L1531.1 520.2 L1534.8 520.8 L1538.5 521.3 L1542.3 521.9 L1546.0 522.5 L1549.7 523.2 L1553.4 523.8 L1557.1 524.4 L1560.8 525.1 L1564.5 525.8 L1568.2 526.4 L1572.0 527.1 L1575.7 527.8 L1579.4 528.6 L1583.1 529.3 L1586.8 530.0 L1590.5 530.8 L1594.2 531.5 L1597.9 532.3 L1601.6 533.1 L1605.4 533.9 L1609.1 534.7 L1612.8 535.5 L1616.5 536.4 L1620.2 537.2 L1623.9 538.1 L1627.6 538.9 L1631.3 539.8 L1635.1 540.7 L1638.8 541.6 L1642.5 542.5 L1646.2 543.4 L1649.9 544.3 L1653.6 545.3 L1657.3 546.2 L1661.0 547.2 L1664.7 548.1 L1668.5 549.1 L1672.2 550.1 L1675.9 551.1 L1679.6 552.1 L1683.3 553.1 L1687.0 554.1 L1690.7 555.2 L1694.4 556.2 L1698.1 557.3 L1701.9 558.3 L1705.6 559.4 L1709.3 560.5 L1713.0 561.6 L1716.7 562.7 L1720.4 563.8 L1724.1 564.9 L1727.8 566.0 L1731.6 567.2 L1735.3 568.3 L1739.0 569.5 L1742.7 570.6 L1746.4 571.8 L1750.1 573.0 L1753.8 574.2 L1757.5 575.4 L1761.2 576.6 L1765.0 577.8 L1768.7 579.0 L1772.4 580.3 L1776.1 581.5 L1779.8 582.8 L1783.5 584.1 L1787.2 585.3 L1790.9 586.6 L1794.7 587.9 L1798.4 589.2 L1802.1 590.5 L1805.8 591.8 L1809.5 593.2 L1813.2 594.5 L1816.9 595.9 L1820.6 597.2 L1824.3 598.6 L1828.1 599.9 L1831.8 601.3 L1835.5 602.7 L1839.2 604.1 L1842.9 605.5 L1846.6 606.9 L1850.3 608.3 L1854.0 609.8 L1857.8 611.2 L1861.5 612.7 L1865.2 614.1 L1868.9 615.6 L1872.6 617.0 L1876.3 618.5 L1880.0 620.0 L1883.7 621.5 L1887.4 622.9 L1891.2 624.4 L1894.9 625.9 L1898.6 627.4 L1902.3 629.0 L1906.0 630.5 L1909.7 632.0 L1913.4 633.5 L1917.1 635.1 L1920.8 636.6 L1924.6 638.2 L1928.3 639.7 L1932.0 641.3 L1935.7 642.8 L1939.4 644.4 L1943.1 645.9 L1946.8 647.5 L1950.5 649.1 L1954.3 650.7 L1958.0 652.2 L1961.7 653.8 L1965.4 655.4 L1969.1 657.0 L1972.8 658.6 L1976.5 660.2 L1980.2 661.8 L1983.9 663.4 L1987.7 665.0 L1991.4 666.6 L1995.1 668.2 L1998.8 669.8 L2002.5 671.4 L2006.2 673.0 L2009.9 674.6 L2013.6 676.2 L2017.4 677.8 L2021.1 679.4 L2024.8 681.1 L2028.5 682.7 L2032.2 684.3 L2035.9 685.9 L2039.6 687.5 L2043.3 689.2 L2047.0 690.8 L2050.8 692.4 L2054.5 694.1 L2058.2 695.7 L2061.9 697.3 L2065.6 699.0 L2069.3 700.6 L2073.0 702.2 L2076.7 703.9 L2080.5 705.5 L2084.2 707.2 L2087.9 708.8 L2091.6 710.5 L2095.3 712.1 L2099.0 713.8 L2102.7 715.4 L2106.4 717.1 L2110.1 718.7 L2113.9 720.4 L2117.6 722.0 L2121.3 723.7 L2125.0 725.3 L2128.7 727.0 L2132.4 728.6 L2136.1 730.3 L2139.8 731.9 L2143.5 733.6 L2147.3 735.2 L2151.0 736.9 L2154.7 738.5 L2158.4 740.2 L2162.1 741.8 L2165.8 743.4 L2169.5 745.1 L2173.2 746.7 L2176.9 748.3 L2180.6 749.9 L2184.2 751.5 L2187.9 753.1 L2191.4 754.6 L2195.0 756.2 L2198.4 757.7 L2201.9 759.2 L2205.2 760.6 L2208.5 762.1 L2211.7 763.5 L2214.8 764.8 L2217.9 766.1 L2220.8 767.4 L2223.6 768.6 L2226.4 769.8 L2229.0 770.9 L2231.5 772.0 L2233.8 773.0 L2236.0 774.0 L2238.1 774.9 L2240.1 775.7 L2241.8 776.5 L2243.5 777.2 L2245.0 777.8 L2246.3 778.4 L2247.5 778.9 L2248.6 779.4 L2249.6 779.8 L2250.5 780.2 L2251.3 780.5 L2252.0 780.8 L2252.5 781.1 L2253.0 781.3 L2253.5 781.5 L2253.8 781.6 L2254.1 781.8 L2254.4 781.9 L2254.5 781.9 L2254.7 782.0 L2254.8 782.0 L2254.8 782.1 L2254.9 782.1" fill="none" stroke="#0000ff" stroke-width="4.2" stroke-linejoin="round"/>
<polygon points="1364.1,494.53 1374.2,512.33 1354,512.33" fill="#0000ff"/>
<polygon points="1453.18,498.13 1463.28,515.93 1443.08,515.93" fill="#0000ff"/>
<polygon points="1542.26,508.83 1552.36,526.63 1532.16,526.63" fill="#0000ff"/>
<polygon points="1631.34,526.93 1641.44,544.73 1621.24,544.73" fill="#0000ff"/>
<polygon points="1720.42,551.03 1730.52,568.83 1710.32,568.83" fill="#0000ff"/>
<polygon points="1809.5,580.43 1819.6,598.23 1799.4,598.23" fill="#0000ff"/>
<polygon points="1898.58,615.03 1908.68,632.83 1888.48,632.83" fill="#0000ff"/>
<polygon points="1987.66,652.93 1997.76,670.73 1977.56,670.73" fill="#0000ff"/>
<polygon points="2076.74,691.83 2086.84,709.63 2066.64,709.63" fill="#0000ff"/>
<polygon points="2165.82,731.83 2175.92,749.63 2155.72,749.63" fill="#0000ff"/>
<polygon points="2254.9,770.23 2265,788.03 2244.8,788.03" fill="#0000ff"/>
<path d="M1364.1 465.8 L1364.2 465.8 L1364.2 465.8 L1364.3 465.8 L1364.5 465.8 L1364.6 465.8 L1364.9 465.8 L1365.2 465.8 L1365.5 465.9 L1366.0 465.9 L1366.5 465.9 L1367.0 465.9 L1367.7 466.0 L1368.5 466.0 L1369.4 466.0 L1370.4 466.1 L1371.5 466.1 L1372.7 466.2 L1374.0 466.2 L1375.5 466.3 L1377.2 466.4 L1378.9 466.5 L1380.9 466.6 L1383.0 466.6 L1385.2 466.7 L1387.5 466.9 L1390.0 467.0 L1392.6 467.1 L1395.4 467.2 L1398.2 467.4 L1401.1 467.5 L1404.2 467.7 L1407.3 467.9 L1410.5 468.1 L1413.8 468.3 L1417.1 468.5 L1420.6 468.7 L1424.0 468.9 L1427.6 469.2 L1431.1 469.5 L1434.8 469.7 L1438.4 470.0 L1442.1 470.3 L1445.8 470.6 L1449.5 471.0 L1453.2 471.3 L1456.9 471.7 L1460.6 472.1 L1464.3 472.5 L1468.0 472.9 L1471.7 473.3 L1475.4 473.7 L1479.2 474.2 L1482.9 474.7 L1486.6 475.1 L1490.3 475.6 L1494.0 476.2 L1497.7 476.7 L1501.4 477.2 L1505.1 477.8 L1508.9 478.4 L1512.6 478.9 L1516.3 479.5 L1520.0 480.1 L1523.7 480.8 L1527.4 481.4 L1531.1 482.0 L1534.8 482.7 L1538.5 483.4 L1542.3 484.1 L1546.0 484.8 L1549.7 485.5 L1553.4 486.2 L1557.1 486.9 L1560.8 487.7 L1564.5 488.4 L1568.2 489.2 L1572.0 490.0 L1575.7 490.8 L1579.4 491.6 L1583.1 492.4 L1586.8 493.3 L1590.5 494.1 L1594.2 495.0 L1597.9 495.8 L1601.6 496.7 L1605.4 497.6 L1609.1 498.5 L1612.8 499.5 L1616.5 500.4 L1620.2 501.4 L1623.9 502.3 L1627.6 503.3 L1631.3 504.3 L1635.1 505.3 L1638.8 506.3 L1642.5 507.4 L1646.2 508.4 L1649.9 509.5 L1653.6 510.5 L1657.3 511.6 L1661.0 512.7 L1664.7 513.8 L1668.5 515.0 L1672.2 516.1 L1675.9 517.2 L1679.6 518.4 L1683.3 519.6 L1687.0 520.8 L1690.7 522.0 L1694.4 523.2 L1698.1 524.4 L1701.9 525.6 L1705.6 526.9 L1709.3 528.1 L1713.0 529.4 L1716.7 530.7 L1720.4 531.9 L1724.1 533.2 L1727.8 534.6 L1731.6 535.9 L1735.3 537.2 L1739.0 538.6 L1742.7 539.9 L1746.4 541.3 L1750.1 542.6 L1753.8 544.0 L1757.5 545.4 L1761.2 546.8 L1765.0 548.2 L1768.7 549.7 L1772.4 551.1 L1776.1 552.6 L1779.8 554.0 L1783.5 555.5 L1787.2 557.0 L1790.9 558.4 L1794.7 559.9 L1798.4 561.4 L1802.1 563.0 L1805.8 564.5 L1809.5 566.0 L1813.2 567.6 L1816.9 569.1 L1820.6 570.7 L1824.3 572.2 L1828.1 573.8 L1831.8 575.4 L1835.5 577.0 L1839.2 578.6 L1842.9 580.2 L1846.6 581.9 L1850.3 583.5 L1854.0 585.1 L1857.8 586.8 L1861.5 588.4 L1865.2 590.1 L1868.9 591.8 L1872.6 593.5 L1876.3 595.1 L1880.0 596.8 L1883.7 598.5 L1887.4 600.2 L1891.2 601.9 L1894.9 603.7 L1898.6 605.4 L1902.3 607.1 L1906.0 608.8 L1909.7 610.6 L1913.4 612.3 L1917.1 614.1 L1920.8 615.9 L1924.6 617.6 L1928.3 619.4 L1932.0 621.2 L1935.7 622.9 L1939.4 624.7 L1943.1 626.5 L1946.8 628.3 L1950.5 630.1 L1954.3 631.9 L1958.0 633.7 L1961.7 635.5 L1965.4 637.3 L1969.1 639.2 L1972.8 641.0 L1976.5 642.8 L1980.2 644.7 L1983.9 646.5 L1987.7 648.3 L1991.4 650.2 L1995.1 652.0 L1998.8 653.9 L2002.5 655.7 L2006.2 657.6 L2009.9 659.4 L2013.6 661.3 L2017.4 663.2 L2021.1 665.0 L2024.8 666.9 L2028.5 668.8 L2032.2 670.7 L2035.9 672.5 L2039.6 674.4 L2043.3 676.3 L2047.0 678.2 L2050.8 680.1 L2054.5 682.0 L2058.2 683.8 L2061.9 685.7 L2065.6 687.6 L2069.3 689.5 L2073.0 691.4 L2076.7 693.3 L2080.5 695.2 L2084.2 697.1 L2087.9 699.0 L2091.6 700.9 L2095.3 702.8 L2099.0 704.7 L2102.7 706.6 L2106.4 708.5 L2110.1 710.4 L2113.9 712.3 L2117.6 714.2 L2121.3 716.1 L2125.0 718.0 L2128.7 719.9 L2132.4 721.8 L2136.1 723.7 L2139.8 725.5 L2143.5 727.4 L2147.3 729.3 L2151.0 731.2 L2154.7 733.0 L2158.4 734.9 L2162.1 736.8 L2165.8 738.6 L2169.5 740.5 L2173.2 742.3 L2176.9 744.1 L2180.6 746.0 L2184.2 747.8 L2187.9 749.5 L2191.4 751.3 L2195.0 753.0 L2198.4 754.7 L2201.9 756.4 L2205.2 758.0 L2208.5 759.6 L2211.7 761.2 L2214.8 762.7 L2217.9 764.2 L2220.8 765.6 L2223.6 767.0 L2226.4 768.3 L2229.0 769.6 L2231.5 770.8 L2233.8 771.9 L2236.0 773.0 L2238.1 774.0 L2240.1 774.9 L2241.8 775.8 L2243.5 776.6 L2245.0 777.3 L2246.3 778.0 L2247.5 778.5 L2248.6 779.1 L2249.6 779.6 L2250.5 780.0 L2251.3 780.4 L2252.0 780.7 L2252.5 781.0 L2253.0 781.2 L2253.5 781.4 L2253.8 781.6 L2254.1 781.7 L2254.4 781.8 L2254.5 781.9 L2254.7 782.0 L2254.8 782.0 L2254.8 782.1 L2254.9 782.1" fill="none" stroke="#ff00ff" stroke-width="4.2" stroke-linejoin="round"/>
<polygon points="1354,459.87 1374.2,459.87 1364.1,477.67" fill="#ff00ff"/>
<polygon points="1443.08,463.87 1463.28,463.87 1453.18,481.67" fill="#ff00ff"/>
<polygon points="1532.16,476.97 1552.36,476.97 1542.26,494.77" fill="#ff00ff"/>
<polygon points="1621.24,497.07 1641.44,497.07 1631.34,514.87" fill="#ff00ff"/>
<polygon points="1710.32,524.97 1730.52,524.97 1720.42,542.77" fill="#ff00ff"/>
<polygon points="1799.4,559.17 1819.6,559.17 1809.5,576.97" fill="#ff00ff"/>
<polygon points="1888.48,598.87 1908.68,598.87 1898.58,616.67" fill="#ff00ff"/>
<polygon points="1977.56,642.07 1997.76,642.07 1987.66,659.87" fill="#ff00ff"/>
<polygon points="2066.64,687.27 2086.84,687.27 2076.74,705.07" fill="#ff00ff"/>
<polygon points="2155.72,733.17 2175.92,733.17 2165.82,750.97" fill="#ff00ff"/>
<polygon points="2244.8,776.17 2265,776.17 2254.9,793.97" fill="#ff00ff"/>
<path d="M1364.1 178.1 L1364.2 178.1 L1364.2 178.1 L1364.3 178.1 L1364.5 178.1 L1364.6 178.2 L1364.9 178.2 L1365.2 178.2 L1365.5 178.3 L1366.0 178.3 L1366.5 178.4 L1367.0 178.5 L1367.7 178.5 L1368.5 178.6 L1369.4 178.7 L1370.4 178.9 L1371.5 179.0 L1372.7 179.1 L1374.0 179.3 L1375.5 179.5 L1377.2 179.7 L1378.9 179.9 L1380.9 180.1 L1383.0 180.4 L1385.2 180.7 L1387.5 181.0 L1390.0 181.3 L1392.6 181.6 L1395.4 182.0 L1398.2 182.3 L1401.1 182.8 L1404.2 183.2 L1407.3 183.6 L1410.5 184.1 L1413.8 184.6 L1417.1 185.1 L1420.6 185.7 L1424.0 186.3 L1427.6 186.9 L1431.1 187.5 L1434.8 188.2 L1438.4 188.9 L1442.1 189.6 L1445.8 190.4 L1449.5 191.1 L1453.2 191.9 L1456.9 192.8 L1460.6 193.7 L1464.3 194.6 L1468.0 195.5 L1471.7 196.5 L1475.4 197.5 L1479.2 198.5 L1482.9 199.6 L1486.6 200.7 L1490.3 201.8 L1494.0 203.0 L1497.7 204.2 L1501.4 205.4 L1505.1 206.6 L1508.9 207.9 L1512.6 209.2 L1516.3 210.5 L1520.0 211.9 L1523.7 213.3 L1527.4 214.7 L1531.1 216.1 L1534.8 217.6 L1538.5 219.1 L1542.3 220.6 L1546.0 222.2 L1549.7 223.8 L1553.4 225.4 L1557.1 227.0 L1560.8 228.7 L1564.5 230.4 L1568.2 232.1 L1572.0 233.8 L1575.7 235.6 L1579.4 237.4 L1583.1 239.2 L1586.8 241.1 L1590.5 242.9 L1594.2 244.8 L1597.9 246.7 L1601.6 248.7 L1605.4 250.7 L1609.1 252.7 L1612.8 254.7 L1616.5 256.7 L1620.2 258.8 L1623.9 260.9 L1627.6 263.0 L1631.3 265.1 L1635.1 267.3 L1638.8 269.5 L1642.5 271.7 L1646.2 273.9 L1649.9 276.2 L1653.6 278.4 L1657.3 280.7 L1661.0 283.1 L1664.7 285.4 L1668.5 287.8 L1672.2 290.1 L1675.9 292.5 L1679.6 295.0 L1683.3 297.4 L1687.0 299.9 L1690.7 302.4 L1694.4 304.9 L1698.1 307.4 L1701.9 309.9 L1705.6 312.5 L1709.3 315.1 L1713.0 317.7 L1716.7 320.3 L1720.4 322.9 L1724.1 325.6 L1727.8 328.2 L1731.6 330.9 L1735.3 333.6 L1739.0 336.4 L1742.7 339.1 L1746.4 341.8 L1750.1 344.6 L1753.8 347.4 L1757.5 350.2 L1761.2 353.0 L1765.0 355.8 L1768.7 358.7 L1772.4 361.6 L1776.1 364.4 L1779.8 367.3 L1783.5 370.2 L1787.2 373.1 L1790.9 376.1 L1794.7 379.0 L1798.4 382.0 L1802.1 384.9 L1805.8 387.9 L1809.5 390.9 L1813.2 393.9 L1816.9 396.9 L1820.6 399.9 L1824.3 402.9 L1828.1 406.0 L1831.8 409.0 L1835.5 412.1 L1839.2 415.2 L1842.9 418.3 L1846.6 421.4 L1850.3 424.5 L1854.0 427.6 L1857.8 430.7 L1861.5 433.9 L1865.2 437.0 L1868.9 440.2 L1872.6 443.3 L1876.3 446.5 L1880.0 449.7 L1883.7 452.9 L1887.4 456.1 L1891.2 459.3 L1894.9 462.5 L1898.6 465.8 L1902.3 469.0 L1906.0 472.3 L1909.7 475.5 L1913.4 478.8 L1917.1 482.1 L1920.8 485.3 L1924.6 488.6 L1928.3 491.9 L1932.0 495.2 L1935.7 498.5 L1939.4 501.9 L1943.1 505.2 L1946.8 508.5 L1950.5 511.8 L1954.3 515.2 L1958.0 518.5 L1961.7 521.9 L1965.4 525.2 L1969.1 528.6 L1972.8 531.9 L1976.5 535.3 L1980.2 538.7 L1983.9 542.0 L1987.7 545.4 L1991.4 548.8 L1995.1 552.2 L1998.8 555.5 L2002.5 558.9 L2006.2 562.3 L2009.9 565.7 L2013.6 569.1 L2017.4 572.5 L2021.1 575.8 L2024.8 579.2 L2028.5 582.6 L2032.2 586.0 L2035.9 589.4 L2039.6 592.8 L2043.3 596.2 L2047.0 599.5 L2050.8 602.9 L2054.5 606.3 L2058.2 609.7 L2061.9 613.1 L2065.6 616.4 L2069.3 619.8 L2073.0 623.2 L2076.7 626.6 L2080.5 629.9 L2084.2 633.3 L2087.9 636.7 L2091.6 640.0 L2095.3 643.4 L2099.0 646.7 L2102.7 650.1 L2106.4 653.4 L2110.1 656.8 L2113.9 660.1 L2117.6 663.4 L2121.3 666.8 L2125.0 670.1 L2128.7 673.4 L2132.4 676.7 L2136.1 680.0 L2139.8 683.3 L2143.5 686.6 L2147.3 689.9 L2151.0 693.1 L2154.7 696.4 L2158.4 699.7 L2162.1 702.9 L2165.8 706.1 L2169.5 709.4 L2173.2 712.6 L2176.9 715.8 L2180.6 719.0 L2184.2 722.1 L2187.9 725.2 L2191.4 728.3 L2195.0 731.3 L2198.4 734.3 L2201.9 737.2 L2205.2 740.1 L2208.5 742.9 L2211.7 745.6 L2214.8 748.3 L2217.9 750.8 L2220.8 753.3 L2223.6 755.7 L2226.4 758.0 L2229.0 760.2 L2231.5 762.3 L2233.8 764.3 L2236.0 766.2 L2238.1 768.0 L2240.1 769.6 L2241.8 771.1 L2243.5 772.5 L2245.0 773.7 L2246.3 774.9 L2247.5 775.9 L2248.6 776.8 L2249.6 777.7 L2250.5 778.4 L2251.3 779.0 L2252.0 779.6 L2252.5 780.1 L2253.0 780.5 L2253.5 780.9 L2253.8 781.2 L2254.1 781.4 L2254.4 781.6 L2254.5 781.8 L2254.7 781.9 L2254.8 782.0 L2254.8 782.0 L2254.9 782.1" fill="none" stroke="#008000" stroke-width="4.2" stroke-linejoin="round"/>
<polygon points="1364.1,167.1 1375.1,178.1 1364.1,189.1 1353.1,178.1" fill="#008000"/>
<polygon points="1453.18,177.9 1464.18,188.9 1453.18,199.9 1442.18,188.9" fill="#008000"/>
<polygon points="1542.26,207 1553.26,218 1542.26,229 1531.26,218" fill="#008000"/>
<polygon points="1631.34,251.9 1642.34,262.9 1631.34,273.9 1620.34,262.9" fill="#008000"/>
<polygon points="1720.42,310.2 1731.42,321.2 1720.42,332.2 1709.42,321.2" fill="#008000"/>
<polygon points="1809.5,378.8 1820.5,389.8 1809.5,400.8 1798.5,389.8" fill="#008000"/>
<polygon points="1898.58,453.9 1909.58,464.9 1898.58,475.9 1887.58,464.9" fill="#008000"/>
<polygon points="1987.66,534.2 1998.66,545.2 1987.66,556.2 1976.66,545.2" fill="#008000"/>
<polygon points="2076.74,615.8 2087.74,626.8 2076.74,637.8 2065.74,626.8" fill="#008000"/>
<polygon points="2165.82,696 2176.82,707 2165.82,718 2154.82,707" fill="#008000"/>
<polygon points="2254.9,771.1 2265.9,782.1 2254.9,793.1 2243.9,782.1" fill="#008000"/>
</g>
<rect x="2002.5" y="167.5" width="211" height="380" fill="#fff" stroke="#000" stroke-width="1.3"/>
<line x1="2023.5" y1="207.8" x2="2117" y2="207.8" stroke="#000000" stroke-width="4.5" stroke-linecap="round"/>
<rect x="2062.7" y="200.3" width="15" height="15" fill="#000000"/>
<line x1="2023.5" y1="283.5" x2="2117" y2="283.5" stroke="#ff0000" stroke-width="4.5" stroke-linecap="round"/>
<circle cx="2070.2" cy="283.5" r="8.4" fill="#ff0000"/>
<line x1="2023.5" y1="359.1" x2="2117" y2="359.1" stroke="#0000ff" stroke-width="4.5" stroke-linecap="round"/>
<polygon points="2070.2,347.23 2080.3,365.03 2060.1,365.03" fill="#0000ff"/>
<line x1="2023.5" y1="427.2" x2="2117" y2="427.2" stroke="#ff00ff" stroke-width="4.5" stroke-linecap="round"/>
<polygon points="2060.1,421.27 2080.3,421.27 2070.2,439.07" fill="#ff00ff"/>
<line x1="2023.5" y1="502.6" x2="2117" y2="502.6" stroke="#008000" stroke-width="4.5" stroke-linecap="round"/>
<polygon points="2070.2,492.1 2080.7,502.6 2070.2,513.1 2059.7,502.6" fill="#008000"/>
<text x="2129.69" y="223" font-family="Liberation Serif, Times New Roman, serif" font-size="38.5">ϕ</text>
<text x="2129.69" y="298.7" font-family="Liberation Serif, Times New Roman, serif" font-size="38.5">ϕ</text>
<text x="2129.69" y="374.3" font-family="Liberation Serif, Times New Roman, serif" font-size="38.5">ϕ</text>
<text x="2129.69" y="442.4" font-family="Liberation Serif, Times New Roman, serif" font-size="38.5">ϕ</text>
<text x="2129.69" y="517.8" font-family="Liberation Serif, Times New Roman, serif" font-size="38.5">ϕ</text>
<text transform="translate(2148.74,239) scale(1.25,1)" font-family="Liberation Serif, Times New Roman, serif" font-size="24.5">α</text>
<text x="2163" y="248.7" font-family="Liberation Serif, Times New Roman, serif" font-size="15">0</text>
<text transform="translate(2148.74,314.7) scale(1.25,1)" font-family="Liberation Serif, Times New Roman, serif" font-size="24.5">α</text>
<text x="2163.5" y="324.4" font-family="Liberation Serif, Times New Roman, serif" font-size="15">1</text>
<text x="2150.45" y="390.1" font-family="Liberation Sans, Arial, sans-serif" font-size="24.5">ADM</text>
<text transform="translate(2149.08,458) scale(1.17,1)" font-family="Liberation Serif, Times New Roman, serif" font-size="23">β</text>
<text x="2163.5" y="467.6" font-family="Liberation Serif, Times New Roman, serif" font-size="15">1</text>
<text transform="translate(2149.08,533.4) scale(1.17,1)" font-family="Liberation Serif, Times New Roman, serif" font-size="23">β</text>
<text x="2162.5" y="543" font-family="Liberation Serif, Times New Roman, serif" font-size="15">0</text>
<text x="420.35" y="1027.7" font-family="Liberation Serif, Times New Roman, serif" font-size="78.5" stroke="#fff" stroke-width="1">(</text>
<text transform="translate(445.52,1029) scale(0.93,1)" font-family="Liberation Serif, Times New Roman, serif" font-size="76.5" font-weight="bold">a</text>
<text x="480.49" y="1027.7" font-family="Liberation Serif, Times New Roman, serif" font-size="78.5" stroke="#fff" stroke-width="1">)</text>
<text transform="translate(529.86,1029.7) scale(1.307,1)" font-family="Liberation Serif, Times New Roman, serif" font-size="78.5" font-style="italic" stroke="#fff" stroke-width="1.6">λ</text>
<text transform="translate(593.45,1034) scale(1.45,1)" font-family="Liberation Serif, Times New Roman, serif" font-size="78" stroke="#fff" stroke-width="0.9">=</text>
<text transform="translate(675.05,1028.2) scale(1.05,1)" font-family="Liberation Serif, Times New Roman, serif" font-size="79">2</text>
<text x="1622.55" y="1027.7" font-family="Liberation Serif, Times New Roman, serif" font-size="78.5" stroke="#fff" stroke-width="1">(</text>
<text x="1646.78" y="1028.8" font-family="Liberation Serif, Times New Roman, serif" font-size="78.8" font-weight="bold">b</text>
<text x="1691.29" y="1027.7" font-family="Liberation Serif, Times New Roman, serif" font-size="78.5" stroke="#fff" stroke-width="1">)</text>
<text transform="translate(1739.96,1029.7) scale(1.307,1)" font-family="Liberation Serif, Times New Roman, serif" font-size="78.5" font-style="italic" stroke="#fff" stroke-width="1.6">λ</text>
<text transform="translate(1803.55,1034) scale(1.45,1)" font-family="Liberation Serif, Times New Roman, serif" font-size="78" stroke="#fff" stroke-width="0.9">=</text>
<text transform="translate(1886.65,1028.2) scale(1.05,1)" font-family="Liberation Serif, Times New Roman, serif" font-size="79">2</text>
</svg>
</body></html>
